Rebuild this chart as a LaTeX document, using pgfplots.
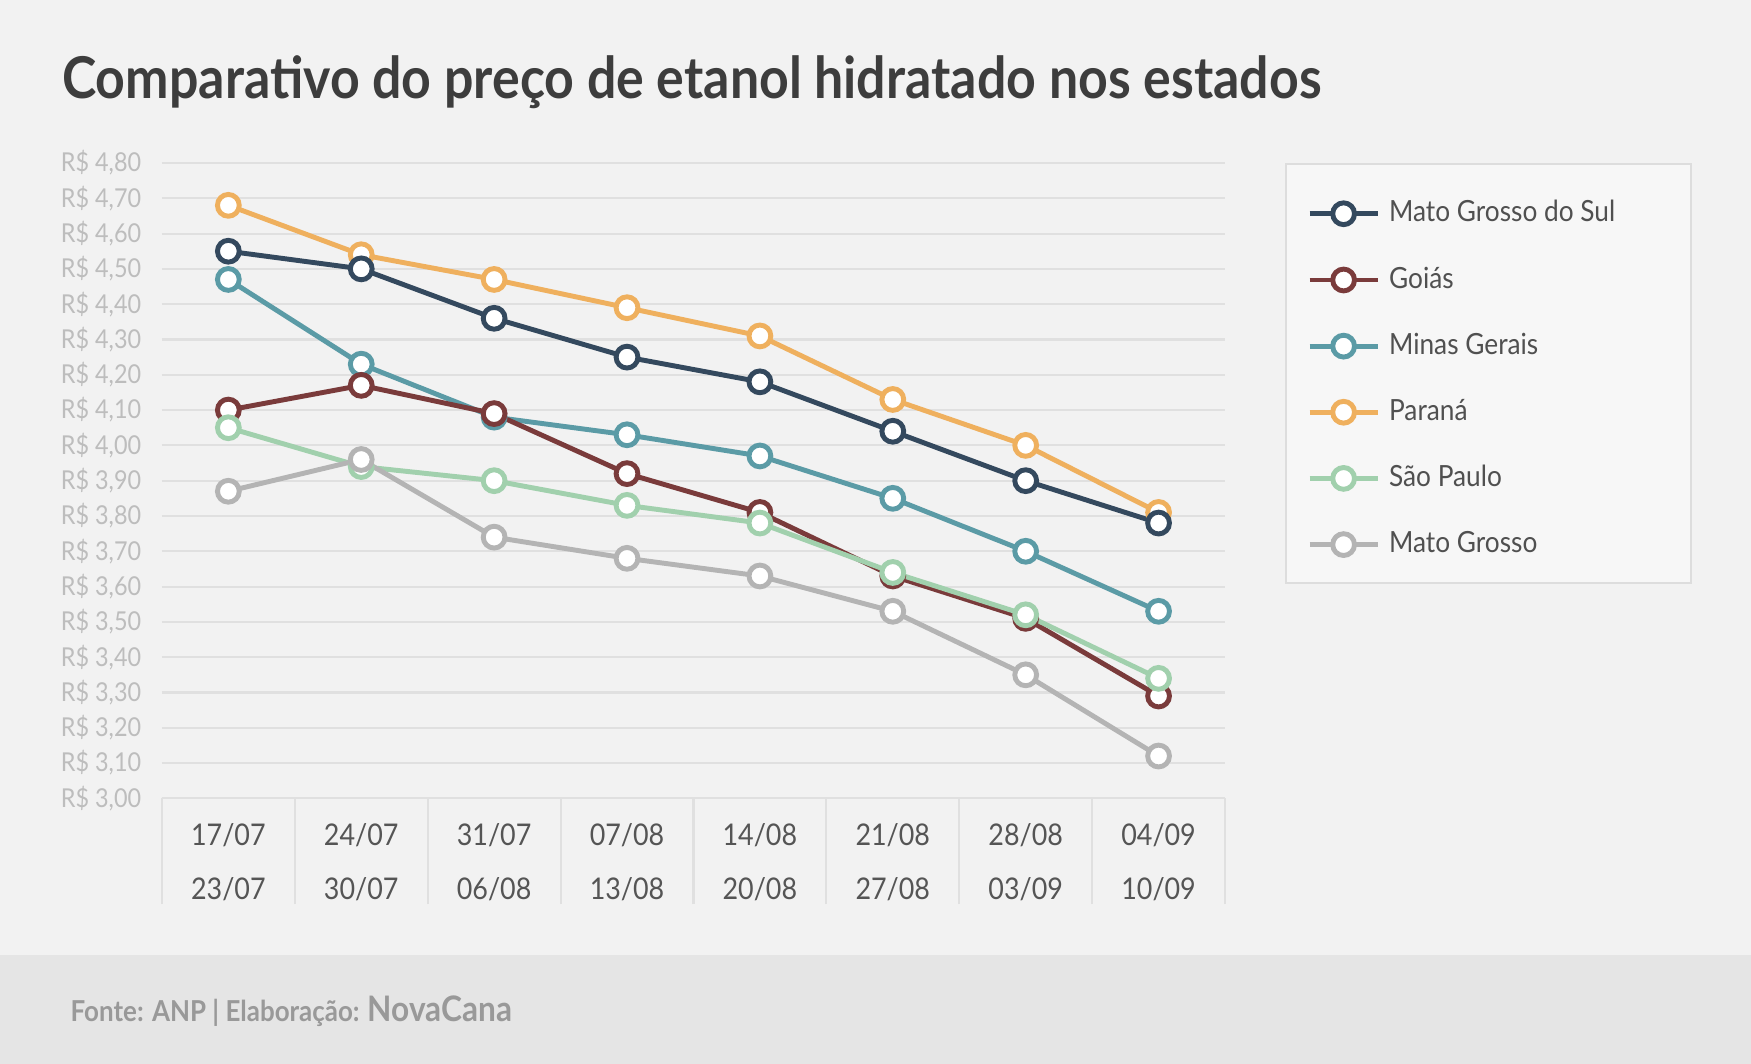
\documentclass[border=0pt]{standalone}
\usepackage{fontspec}
\setmainfont{Lato}[FakeStretch=0.9]
\usepackage{pgfplots}
\pgfplotsset{compat=1.18}
\definecolor{bg}{HTML}{F2F2F2}
\definecolor{footbg}{HTML}{E5E5E5}
\definecolor{titlec}{HTML}{3D3D3D}
\definecolor{footc}{HTML}{999999}
\definecolor{legbg}{HTML}{F7F7F7}
\definecolor{legdraw}{HTML}{DDDDDD}
\definecolor{gridc}{HTML}{E0E0E0}
\definecolor{ytc}{HTML}{BDBDBD}
\definecolor{xtc}{HTML}{555555}
\definecolor{legtext}{HTML}{505050}
\definecolor{cms}{HTML}{34495E}
\definecolor{cgo}{HTML}{7A3B3B}
\definecolor{cmg}{HTML}{5B9BA6}
\definecolor{cpr}{HTML}{EFB05E}
\definecolor{csp}{HTML}{A1D0AD}
\definecolor{cmt}{HTML}{B4B4B4}
\begin{document}
\begin{tikzpicture}[x=1mm,y=1mm]
\fill[bg] (0,0) rectangle (175.1,106.4);
\fill[footbg] (0,0) rectangle (175.1,10.92);
\node[anchor=base west, inner sep=0pt, font=\fontsize{16.4}{18}\selectfont\bfseries, text=titlec] at (6.14,96.57) {Comparativo do preço de etanol hidratado nos estados};
\node[anchor=base west, inner sep=0pt, text=footc, font=\bfseries\fontsize{8.2}{10}\selectfont] at (7.0,4.2) {Fonte: ANP | Elaboração: {\fontsize{10}{12}\selectfont NovaCana}};
\filldraw[fill=legbg, draw=legdraw, line width=0.2mm] (128.64,48.11) rectangle (169.07,89.98);
\begin{axis}[
  at={(16.19mm,26.56mm)}, anchor=south west,
  width=106.31mm, height=63.54mm, scale only axis,
  xmin=-0.5, xmax=7.5, ymin=3, ymax=4.8,
  axis x line*=bottom, axis y line*=left,
  y axis line style={draw=none},
  x axis line style={draw=gridc, line width=0.6pt},
  ymajorgrids, grid style={draw=gridc, line width=0.6pt},
  ytick={3.0,3.1,3.2,3.3,3.4,3.5,3.6,3.7,3.8,3.9,4.0,4.1,4.2,4.3,4.4,4.5,4.6,4.7,4.8},
  ytick style={draw=none},
  /pgf/number format/assume math mode=true,
  yticklabel={R\$ \pgfmathprintnumber[fixed, fixed zerofill, precision=2, use comma, assume math mode=true]{\tick}},
  yticklabel style={font=\fontsize{7.4}{8}\selectfont, text=ytc, inner sep=0pt, anchor=east, xshift=-2mm},
  xtick={0,1,2,3,4,5,6,7},
  minor xtick={-0.5,0.5,1.5,2.5,3.5,4.5,5.5,6.5,7.5},
  tick align=outside, major tick length=0pt, minor tick length=10.6mm,
  xtick style={draw=gridc, line width=0.6pt},
  xticklabels={{17/07\\23/07},{24/07\\30/07},{31/07\\06/08},{07/08\\13/08},{14/08\\20/08},{21/08\\27/08},{28/08\\03/09},{04/09\\10/09}},
  xticklabel style={align=center, font=\fontsize{8.5}{15.6}\selectfont, text=xtc, inner sep=0pt, anchor=north, yshift=-2.4mm},
  every axis plot/.append style={line width=1.4pt, mark=*, mark size=3.1pt},
  legend image code/.code={\draw[mark repeat=2,mark phase=2,#1] plot coordinates {(0mm,0mm) (3.4mm,0mm) (6.8mm,0mm)};},
  legend style={at={(axis description cs:1.0766,0.6599)}, anchor=west, draw=none, fill=none, inner sep=0pt, row sep=3.96mm, font=\fontsize{8.3}{10}\selectfont, text=legtext, cells={anchor=west}, nodes={inner xsep=0.9mm, inner ysep=0pt}},
  legend cell align=left,
]
\addlegendimage{color=cms, mark options={draw=cms, fill=white}}
\addlegendentry{Mato Grosso do Sul}
\addlegendimage{color=cgo, mark options={draw=cgo, fill=white}}
\addlegendentry{Goiás}
\addlegendimage{color=cmg, mark options={draw=cmg, fill=white}}
\addlegendentry{Minas Gerais}
\addlegendimage{color=cpr, mark options={draw=cpr, fill=white}}
\addlegendentry{Paraná}
\addlegendimage{color=csp, mark options={draw=csp, fill=white}}
\addlegendentry{São Paulo}
\addlegendimage{color=cmt, mark options={draw=cmt, fill=white}}
\addlegendentry{Mato Grosso}
% Paraná
\addplot[color=cpr, mark options={draw=cpr, fill=white}, forget plot] coordinates {(0,4.68) (1,4.54) (2,4.47) (3,4.39) (4,4.31) (5,4.13) (6,4.00) (7,3.81)};
% Mato Grosso do Sul
\addplot[color=cms, mark options={draw=cms, fill=white}, forget plot] coordinates {(0,4.55) (1,4.50) (2,4.36) (3,4.25) (4,4.18) (5,4.04) (6,3.90) (7,3.78)};
% Minas Gerais
\addplot[color=cmg, mark options={draw=cmg, fill=white}, forget plot] coordinates {(0,4.47) (1,4.23) (2,4.08) (3,4.03) (4,3.97) (5,3.85) (6,3.70) (7,3.53)};
% Goiás
\addplot[color=cgo, mark options={draw=cgo, fill=white}, forget plot] coordinates {(0,4.10) (1,4.17) (2,4.09) (3,3.92) (4,3.81) (5,3.63) (6,3.51) (7,3.29)};
% São Paulo
\addplot[color=csp, mark options={draw=csp, fill=white}, forget plot] coordinates {(0,4.05) (1,3.94) (2,3.90) (3,3.83) (4,3.78) (5,3.64) (6,3.52) (7,3.34)};
% Mato Grosso
\addplot[color=cmt, mark options={draw=cmt, fill=white}, forget plot] coordinates {(0,3.87) (1,3.96) (2,3.74) (3,3.68) (4,3.63) (5,3.53) (6,3.35) (7,3.12)};
\end{axis}
\end{tikzpicture}
\end{document}
